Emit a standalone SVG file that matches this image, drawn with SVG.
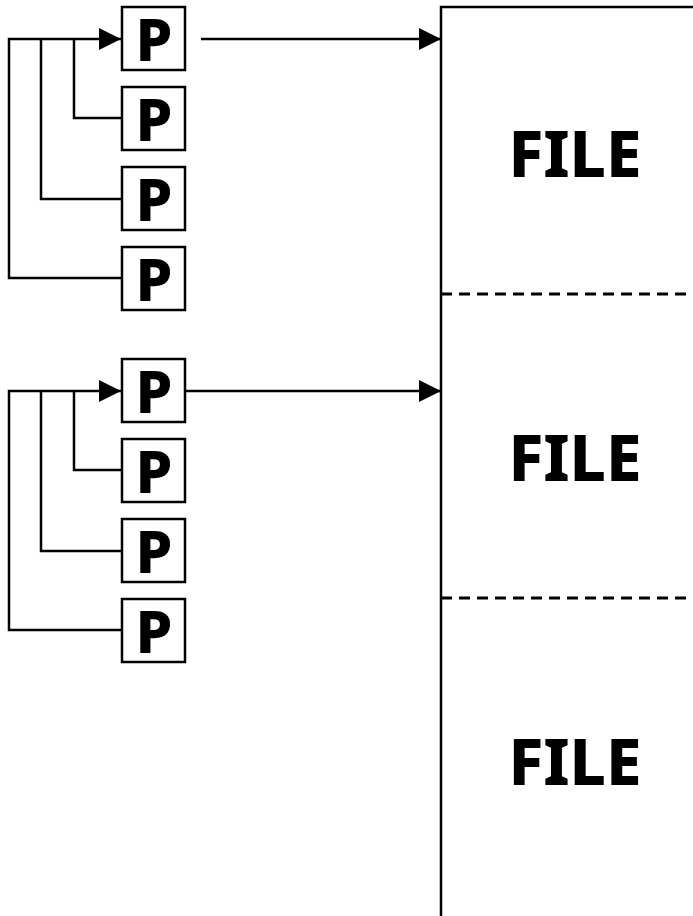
<svg xmlns="http://www.w3.org/2000/svg" width="693" height="916" viewBox="0 0 693 916">
  <style>
    .box { fill: #fff; stroke: #000; stroke-width: 2.5; }
    .lbl { font-family: "Noto Sans", "Open Sans", sans-serif; font-weight: 800; fill: #000; text-anchor: middle; }
    .p { font-size: 59px; }
    .file { font-size: 64px; }
    .wire { fill: none; stroke: #000; stroke-width: 2.5; }
    .div { stroke: #000; stroke-width: 3; stroke-dasharray: 11 7; }
  </style>
  <defs>
    <marker id="arrow" markerWidth="22" markerHeight="22" refX="22" refY="11" orient="auto" markerUnits="userSpaceOnUse">
      <path d="M0,0 L22,11 L0,22 Z" fill="#000"/>
    </marker>
  </defs>
  <rect width="693" height="916" fill="#fff"/>

  <!-- file store -->
  <g id="file">
    <path class="wire" d="M441,920 L441,7 L700,7"/>
    <line class="div" x1="441" y1="294" x2="693" y2="294"/>
    <line class="div" x1="441" y1="598" x2="693" y2="598"/>
    <text class="lbl file" x="575" y="177">FILE</text>
    <text class="lbl file" x="575" y="481">FILE</text>
    <text class="lbl file" x="575" y="785">FILE</text>
  </g>

  <!-- first process group -->
  <g id="p1"><rect class="box" x="122" y="7" width="63" height="63"/><text class="lbl p" x="154" y="61">P</text></g>
  <g id="p2"><rect class="box" x="122" y="87" width="63" height="63"/><text class="lbl p" x="154" y="141">P</text></g>
  <g id="p3"><rect class="box" x="122" y="167" width="63" height="63"/><text class="lbl p" x="154" y="221">P</text></g>
  <g id="p4"><rect class="box" x="122" y="247" width="63" height="63"/><text class="lbl p" x="154" y="301">P</text></g>

  <!-- second process group -->
  <g id="p5"><rect class="box" x="122" y="359" width="63" height="63"/><text class="lbl p" x="154" y="413">P</text></g>
  <g id="p6"><rect class="box" x="122" y="439" width="63" height="63"/><text class="lbl p" x="154" y="493">P</text></g>
  <g id="p7"><rect class="box" x="122" y="519" width="63" height="63"/><text class="lbl p" x="154" y="573">P</text></g>
  <g id="p8"><rect class="box" x="122" y="599" width="63" height="63"/><text class="lbl p" x="154" y="653">P</text></g>

  <g id="connectors">
    <!-- group 1 feedback loops -->
    <path class="wire" d="M122,278 L9,278 L9,39 L121,39" marker-end="url(#arrow)"/>
    <path class="wire" d="M122,199 L41,199 L41,39"/>
    <path class="wire" d="M122,118 L74,118 L74,39"/>
    <line class="wire" x1="201" y1="39" x2="441" y2="39" marker-end="url(#arrow)"/>
    <!-- group 2 feedback loops -->
    <path class="wire" d="M122,630 L9,630 L9,391 L121,391" marker-end="url(#arrow)"/>
    <path class="wire" d="M122,551 L41,551 L41,391"/>
    <path class="wire" d="M122,470 L74,470 L74,391"/>
    <line class="wire" x1="185" y1="391" x2="441" y2="391" marker-end="url(#arrow)"/>
  </g>
</svg>
